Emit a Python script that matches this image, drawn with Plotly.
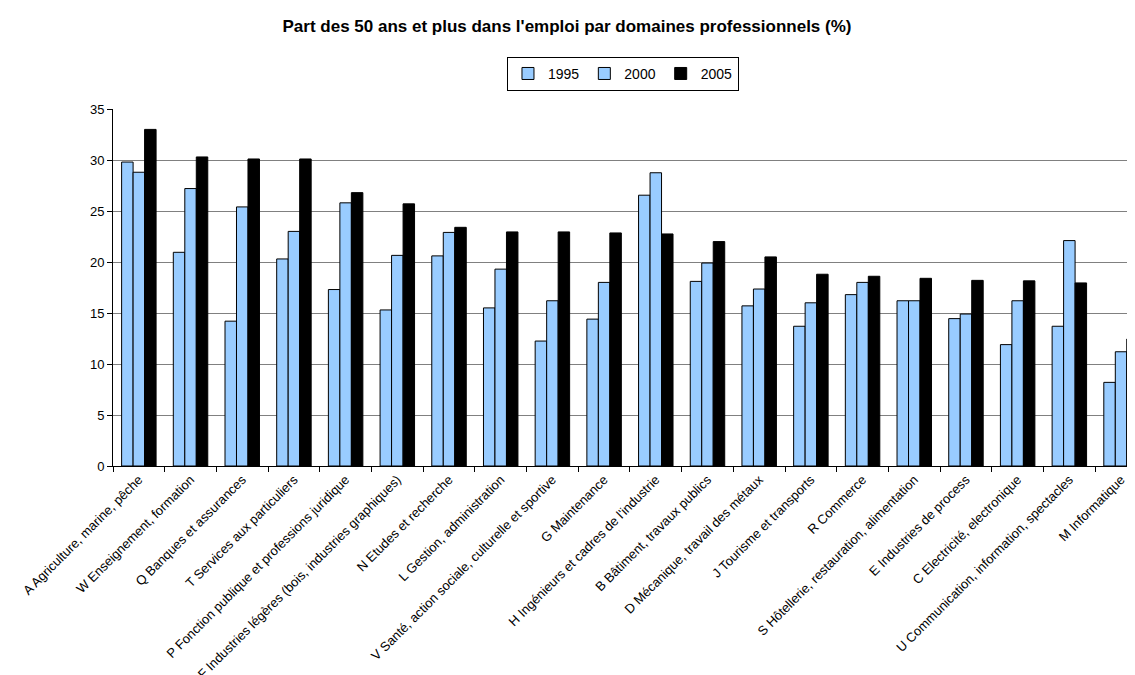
import plotly.graph_objects as go

categories = [
    "A Agriculture, marine, pêche",
    "W Enseignement, formation",
    "Q Banques et assurances",
    "T Services aux particuliers",
    "P Fonction publique et professions juridique",
    "F Industries légères (bois, industries graphiques)",
    "N Etudes et recherche",
    "L Gestion, administration",
    "V Santé, action sociale, culturelle et sportive",
    "G Maintenance",
    "H Ingénieurs et cadres de l'industrie",
    "B Bâtiment, travaux publics",
    "D Mécanique, travail des métaux",
    "J Tourisme et transports",
    "R Commerce",
    "S Hôtellerie, restauration, alimentation",
    "E Industries de process",
    "C Electricité, electronique",
    "U Communication, information, spectacles",
    "M Informatique",
]

v1995 = [29.8, 20.95, 14.2, 20.3, 17.3, 15.3, 20.6, 15.5, 12.25, 14.4,
         26.55, 18.1, 15.7, 13.7, 16.8, 16.2, 14.45, 11.9, 13.7, 8.2]
v2000 = [28.8, 27.2, 25.4, 23.0, 25.8, 20.65, 22.9, 19.3, 16.2, 18.0,
         28.75, 19.9, 17.35, 16.0, 18.0, 16.2, 14.9, 16.2, 22.1, 11.2]
v2005 = [33.0, 30.3, 30.1, 30.1, 26.8, 25.7, 23.4, 22.95, 22.95, 22.85,
         22.75, 22.0, 20.5, 18.8, 18.6, 18.4, 18.2, 18.15, 17.95, 12.45]

series = [("1995", v1995, "#99CCFF"), ("2000", v2000, "#99CCFF"), ("2005", v2005, "#000000")]

FONT = "Arial, Liberation Sans, sans-serif"

fig = go.Figure()
for name, vals, col in series:
    fig.add_trace(go.Bar(
        x=categories, y=vals, name=name,
        marker=dict(color=col, line=dict(color="#000000", width=1)),
    ))

fig.update_layout(
    width=1135, height=675,
    margin=dict(l=105, r=8, t=101, b=217, autoexpand=False),
    paper_bgcolor="white", plot_bgcolor="white",
    barmode="group", bargap=0.333, bargroupgap=0,
    font=dict(family=FONT, color="#000000", size=13),
    title=dict(
        text="<b>Part des 50 ans et plus dans l'emploi par domaines professionnels (%)</b>",
        x=559 / 1135, xanchor="center", xref="container",
        y=1 - 18 / 675, yanchor="middle", yref="container",
        font=dict(family=FONT, size=17, color="#000000"),
    ),
    legend=dict(
        orientation="h", x=0.499, xanchor="center", y=1.146, yanchor="top",
        bordercolor="#000000", borderwidth=1, bgcolor="white",
        font=dict(family=FONT, size=14), itemwidth=30,
        traceorder="normal",
    ),
    showlegend=True,
)

fig.update_xaxes(
    type="category", range=[-0.5, 19.27], automargin=False,
    tickangle=-45, tickfont=dict(family=FONT, size=13),
    showline=True, linecolor="#000000", linewidth=1,
    ticks="outside", ticklen=5, tickcolor="#000000", tickson="boundaries",
    showgrid=False,
)
fig.update_yaxes(
    range=[0, 35], dtick=5, tick0=0, automargin=False,
    tickfont=dict(family=FONT, size=13),
    showline=True, linecolor="#000000", linewidth=1,
    ticks="outside", ticklen=5, tickcolor="#000000",
    showgrid=True, gridcolor="#808080", gridwidth=1,
    zeroline=False,
)

fig.write_html("out.html")
